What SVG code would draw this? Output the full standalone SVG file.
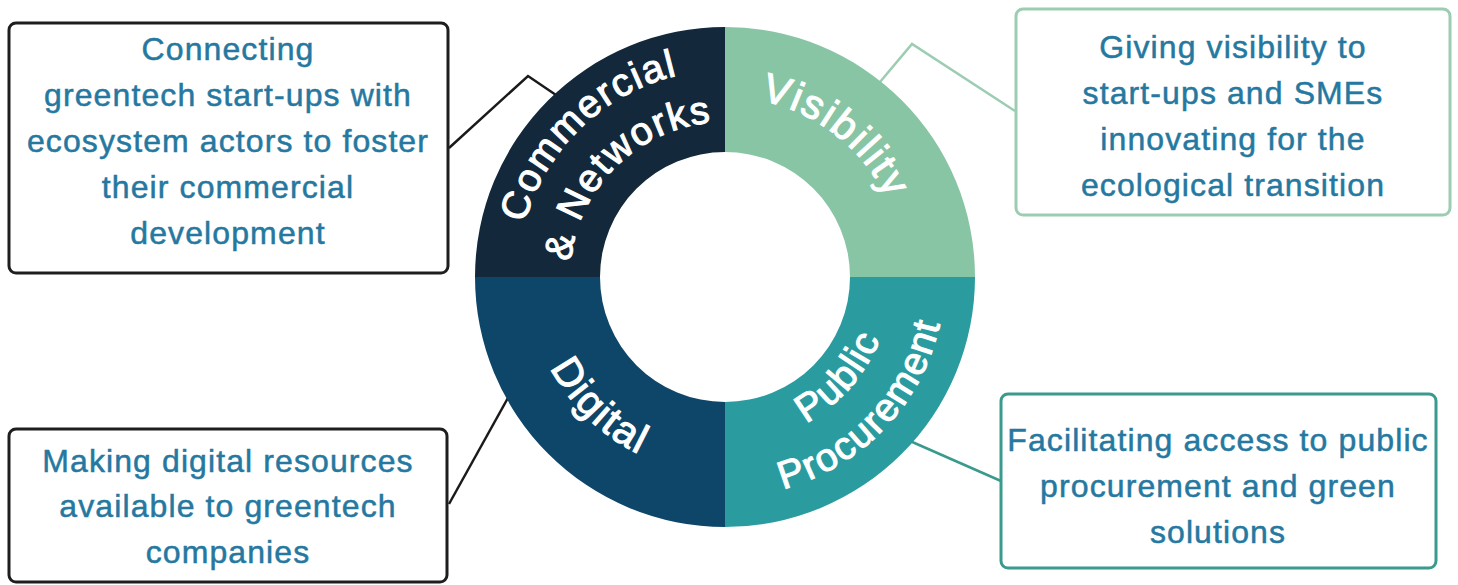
<svg xmlns="http://www.w3.org/2000/svg" width="1458" height="585" viewBox="0 0 1458 585">
<style>
.box{fill:#fff;stroke-width:3}
.bt{font-family:"Liberation Sans",Arial,sans-serif;font-size:32px;fill:#2578a0;stroke:#2578a0;stroke-width:0.5px;text-anchor:middle;letter-spacing:1.1px}
.rl{font-family:"Liberation Sans",Arial,sans-serif;font-size:39px;fill:#fff;stroke:#fff;stroke-width:1.1px;text-anchor:middle;letter-spacing:1.6px}
.con{fill:none;stroke-width:2.5;stroke-linejoin:miter}
</style>
<defs>
<path id="pComm" d="M 524.0 327.1 A 207 207 0 0 1 782.1 78.0"/>
<path id="pNet" d="M 575.0 315.8 A 155 155 0 0 1 766.4 127.6"/>
<path id="pVis" d="M 657.57 110.11 A 180 180 0 0 1 903.25 302.05"/>
<path id="pDig" d="M 533.85 229.34 A 197 197 0 0 0 779.29 466.38"/>
<path id="pPub" d="M 692.5 440.8 A 167 167 0 0 0 883.3 223.4"/>
<path id="pProc" d="M 674.2 491.0 A 220 220 0 0 0 935.8 213.9"/>
</defs>
<rect width="1458" height="585" fill="#fff"/>
<g id="connectors">
<polyline class="con" stroke="#1a1a1a" points="449,148 528,76 556,95"/>
<polyline class="con" stroke="#9ccdb2" points="1015,111 912,44 880,82"/>
<line class="con" stroke="#1a1a1a" x1="449" y1="504" x2="509" y2="396"/>
<line class="con" stroke="#3a9a8c" x1="910" y1="441" x2="1001" y2="481"/>
</g>
<g id="ring">
<g id="seg-commercial">
<path fill="#13283a" d="M 475 277 A 250 250 0 0 1 725 27 L 725 152 A 125 125 0 0 0 600 277 Z"/>
<text class="rl"><textPath href="#pComm" startOffset="50%">Commercial</textPath></text>
<text class="rl"><textPath href="#pNet" startOffset="50%">&amp; Networks</textPath></text>
</g>
<g id="seg-visibility">
<path fill="#88c5a4" d="M 725 27 A 250 250 0 0 1 975 277 L 850 277 A 125 125 0 0 0 725 152 Z"/>
<text class="rl" style="font-size:41px;letter-spacing:2px"><textPath href="#pVis" startOffset="50%">Visibility</textPath></text>
</g>
<g id="seg-public">
<path fill="#2a9c9f" d="M 975 277 A 250 250 0 0 1 725 527 L 725 402 A 125 125 0 0 0 850 277 Z"/>
<text class="rl"><textPath href="#pPub" startOffset="50%">Public</textPath></text>
<text class="rl"><textPath href="#pProc" startOffset="50%">Procurement</textPath></text>
</g>
<g id="seg-digital">
<path fill="#0d4668" d="M 725 527 A 250 250 0 0 1 475 277 L 600 277 A 125 125 0 0 0 725 402 Z"/>
<text class="rl" style="font-size:41px;letter-spacing:2px"><textPath href="#pDig" startOffset="50%">Digital</textPath></text>
</g>
</g>
<g id="box-commercial">
<rect class="box" x="9" y="23" width="439" height="250" rx="7" stroke="#1e1e1e"/>
<text class="bt"><tspan x="228" y="60">Connecting</tspan><tspan x="228" y="106">greentech start-ups with</tspan><tspan x="228" y="152">ecosystem actors to foster</tspan><tspan x="228" y="198">their commercial</tspan><tspan x="228" y="244">development</tspan></text>
</g>
<g id="box-visibility">
<rect class="box" x="1016" y="9" width="434" height="206" rx="7" stroke="#9ccdb2"/>
<text class="bt"><tspan x="1233" y="58">Giving visibility to</tspan><tspan x="1233" y="104">start-ups and SMEs</tspan><tspan x="1233" y="150">innovating for the</tspan><tspan x="1233" y="196">ecological transition</tspan></text>
</g>
<g id="box-digital">
<rect class="box" x="9" y="429" width="438" height="153" rx="7" stroke="#1e1e1e"/>
<text class="bt"><tspan x="228" y="472">Making digital resources</tspan><tspan x="228" y="517">available to greentech</tspan><tspan x="228" y="563">companies</tspan></text>
</g>
<g id="box-public">
<rect class="box" x="1001" y="394" width="435" height="174" rx="7" stroke="#3a9a8c"/>
<text class="bt"><tspan x="1218" y="451">Facilitating access to public</tspan><tspan x="1218" y="497">procurement and green</tspan><tspan x="1218" y="543">solutions</tspan></text>
</g>
</svg>
